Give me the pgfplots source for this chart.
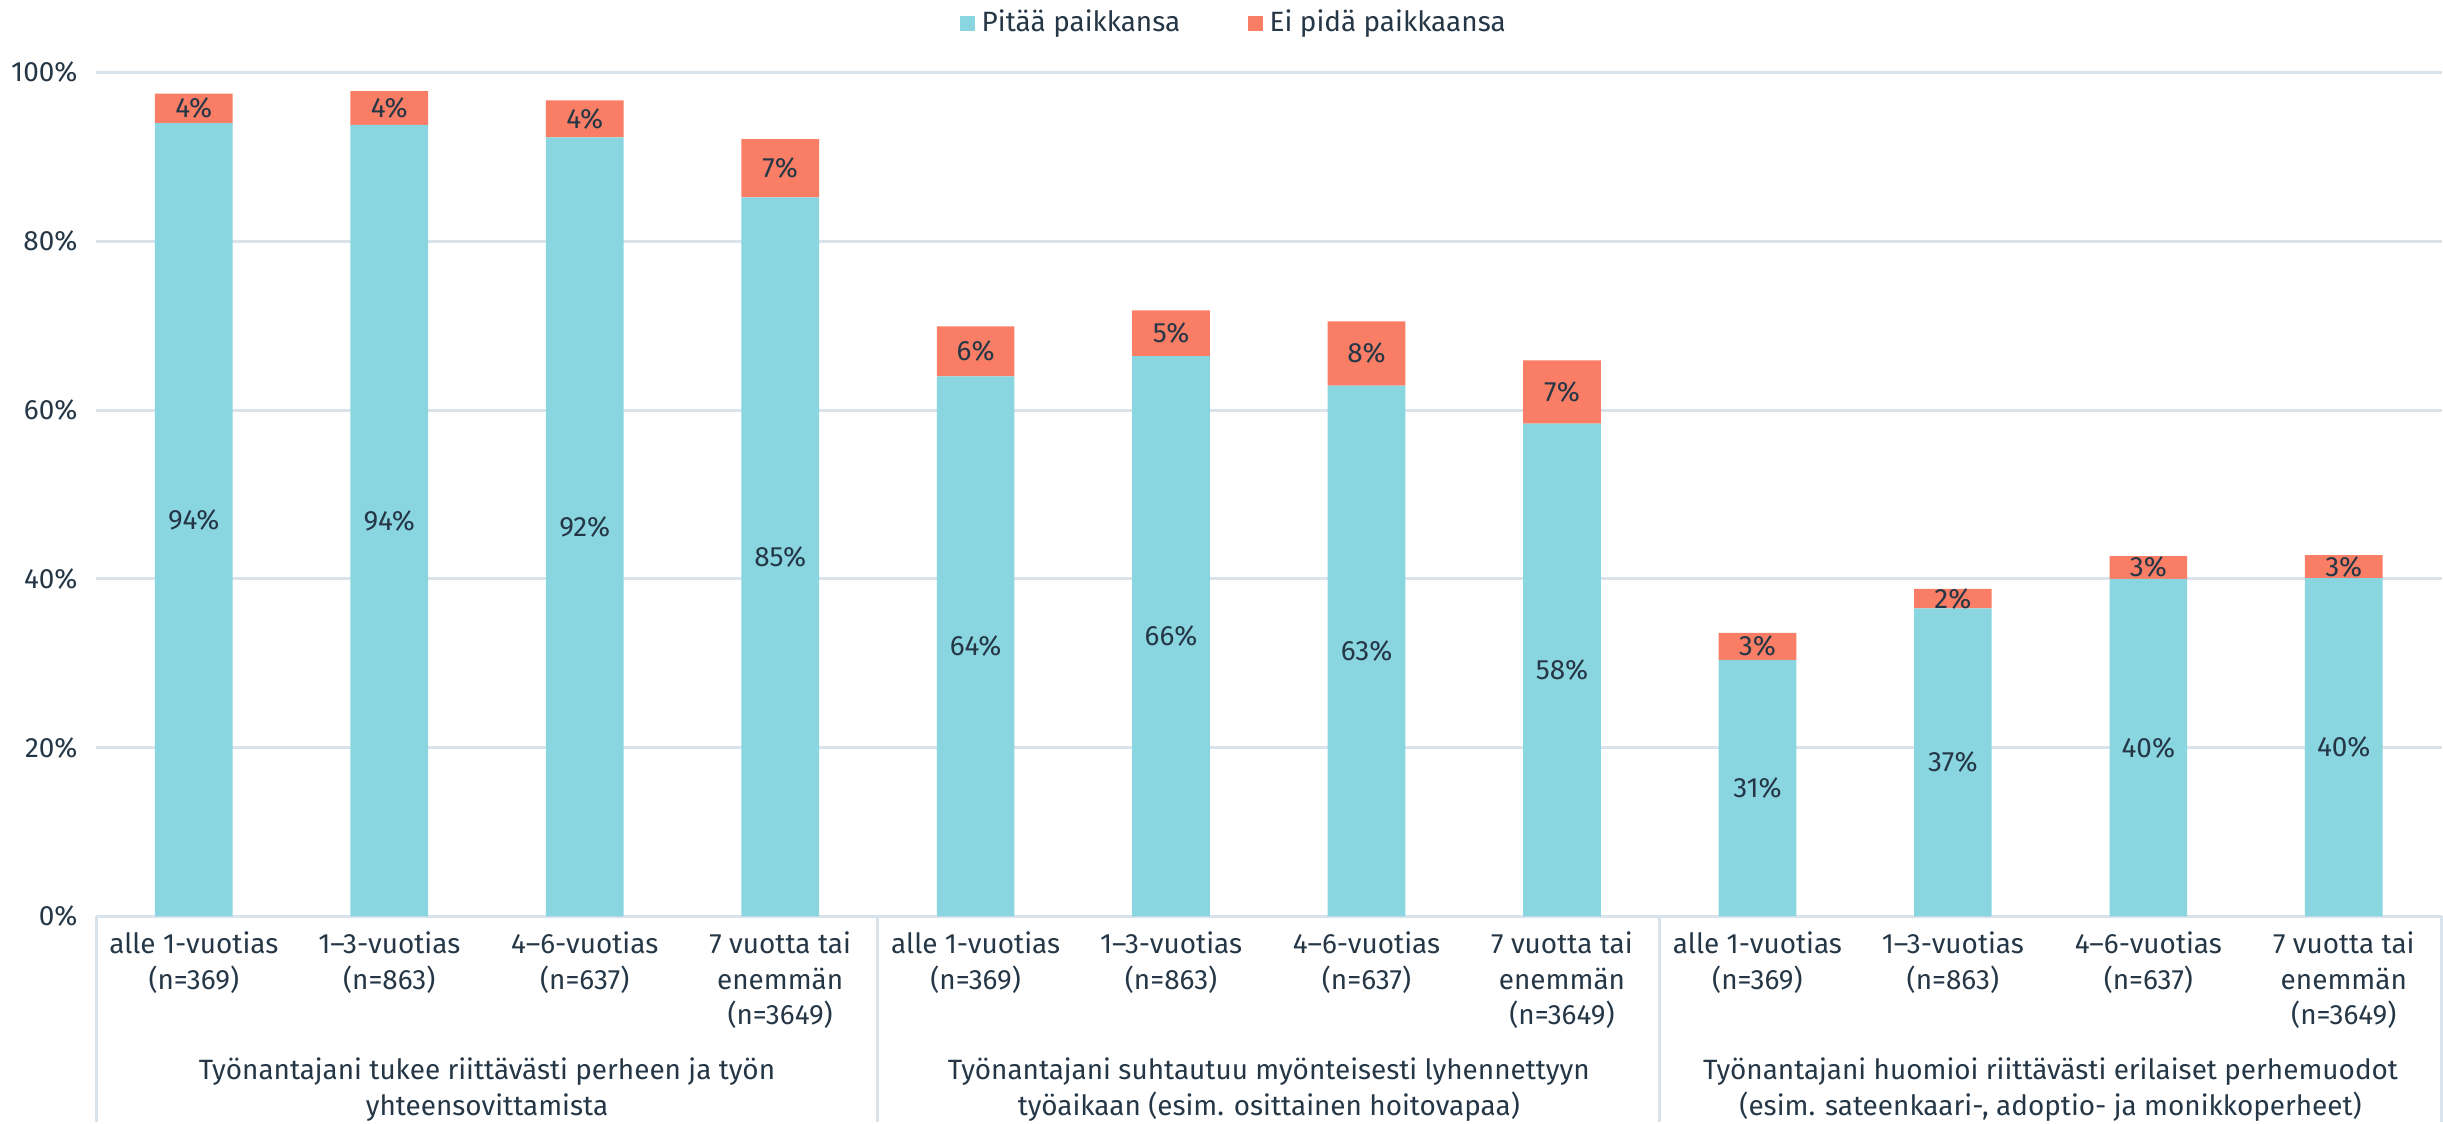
\documentclass[border=0pt]{standalone}
\usepackage{pgfplots}
\usepackage{pgfplotstable}
\pgfplotsset{compat=1.18}
\usepackage{fontspec}
\setmainfont{Fira Sans}
\definecolor{teal1}{HTML}{8AD6E0}
\definecolor{salmon}{HTML}{FA7E66}
\definecolor{txt}{HTML}{253746}
\definecolor{gridc}{HTML}{D9E3EC}

% x, Pitää paikkansa, Ei pidä paikkaansa, printed labels
\pgfplotstableread{
x   yes   no   yl  nl
0   94.0  3.5  94  4
1   93.8  4.0  94  4
2   92.3  4.4  92  4
3   85.2  6.9  85  7
4   64.0  5.9  64  6
5   66.4  5.4  66  5
6   62.9  7.6  63  8
7   58.4  7.5  58  7
8   30.4  3.2  31  3
9   36.5  2.3  37  2
10  40.0  2.7  40  3
11  40.1  2.7  40  3
}\data

\newcommand\lfont{\fontsize{8.3}{10.6}\selectfont}
\tikzset{grouplab/.style={text=txt, font=\lfont, align=center, inner sep=0pt}}

\begin{document}
\begin{tikzpicture}
\pgfplotsset{
  base/.style={
    width=697.5pt, height=251pt, scale only axis,
    xmin=-0.5, xmax=11.5, ymin=0, ymax=100,
    enlargelimits=false, clip=false,
    /pgf/number format/assume math mode=true,
  }
}
\begin{axis}[base,
    ybar stacked, bar width=23.1pt,
    axis x line*=bottom, axis y line*=left,
    y axis line style={draw=none},
    x axis line style={gridc, line width=0.9pt},
    major tick length=0pt,
    ymajorgrids, grid style={gridc, line width=0.9pt},
    ytick={0,20,...,100},
    yticklabel={\pgfmathprintnumber{\tick}\%},
    yticklabel style={text=txt, font=\lfont, xshift=-2pt},
    xtick={0,...,11},
    xticklabels={
      {alle 1-vuotias\\(n=369)},{1–3-vuotias\\(n=863)},{4–6-vuotias\\(n=637)},{7 vuotta tai\\enemmän\\(n=3649)},
      {alle 1-vuotias\\(n=369)},{1–3-vuotias\\(n=863)},{4–6-vuotias\\(n=637)},{7 vuotta tai\\enemmän\\(n=3649)},
      {alle 1-vuotias\\(n=369)},{1–3-vuotias\\(n=863)},{4–6-vuotias\\(n=637)},{7 vuotta tai\\enemmän\\(n=3649)}},
    xticklabel style={align=center, text=txt, font=\lfont, anchor=north, yshift=-1pt},
    legend style={at={(0.486,1.058)}, anchor=center, draw=none, fill=none,
      inner sep=1pt,
      legend columns=-1, font=\lfont, text=txt,
      /tikz/every even column/.append style={column sep=18pt}},
    legend image code/.code={\fill[#1] (0pt,-2.3pt) rectangle (4.6pt,2.3pt);},
  ]
\addplot[fill=teal1, draw=none] table[x=x, y=yes] {\data};
\addplot[fill=salmon, draw=none] table[x=x, y=no] {\data};
\legend{Pitää paikkansa, Ei pidä paikkaansa}

\pgfplotsinvokeforeach{-0.5,3.5,7.5,11.5}{
  \draw[gridc, line width=0.9pt] (axis cs:#1,0) -- ([yshift=-61pt]axis cs:#1,0);
}
\node[grouplab] at ([yshift=-51.4pt]axis cs:1.5,0)
  {Työnantajani tukee riittävästi perheen ja työn\\yhteensovittamista};
\node[grouplab] at ([yshift=-51.4pt]axis cs:5.5,0)
  {Työnantajani suhtautuu myönteisesti lyhennettyyn\\työaikaan (esim. osittainen hoitovapaa)};
\node[grouplab] at ([yshift=-51.4pt]axis cs:9.5,0)
  {Työnantajani huomioi riittävästi erilaiset perhemuodot\\(esim. sateenkaari-, adoptio- ja monikkoperheet)};
\end{axis}

% value labels, centred in each segment
\begin{axis}[base, hide axis,
    nodes near coords={\pgfmathprintnumber{\pgfplotspointmeta}\%},
    point meta=explicit,
    nodes near coords align={center},
    every node near coord/.append style={text=txt, font=\lfont, anchor=center, inner sep=0pt},
  ]
\addplot[draw=none, mark=none] table[x=x, y expr=\thisrow{yes}/2, meta=yl] {\data};
\addplot[draw=none, mark=none] table[x=x, y expr=\thisrow{yes}+\thisrow{no}/2, meta=nl] {\data};
\end{axis}
\end{tikzpicture}
\end{document}
